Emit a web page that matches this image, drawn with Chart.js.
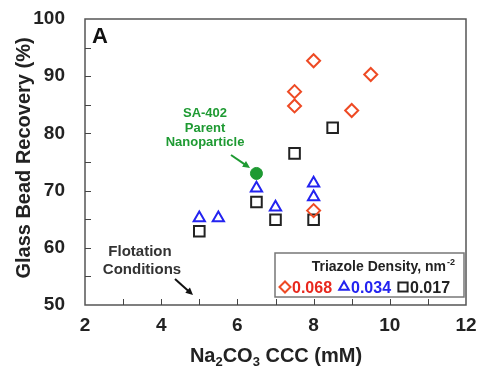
<!DOCTYPE html>
<html>
<head>
<meta charset="utf-8">
<script src="https://cdn.jsdelivr.net/npm/chart.js@4"></script>
<style>
  html, body { margin: 0; padding: 0; background: #fff; }
  #wrap { width: 478px; height: 368px; position: relative; }
</style>
</head>
<body>
<div id="wrap"><canvas id="myChart" width="478" height="368"></canvas></div>
<script>
'use strict';

// data
let redX = [8, 9.5, 7.5, 7.5, 9, 8];
let redY = [92.7, 90.3, 87.3, 84.8, 84.0, 66.5];
let blueX = [6.5, 7, 8, 8, 5, 5.5];
let blueY = [70.4, 67.1, 71.3, 68.9, 65.2, 65.2];
let blackX = [8.5, 7.5, 6.5, 7, 8, 5];
let blackY = [81.0, 76.5, 68.0, 64.9, 64.9, 62.9];
let greenX = [6.5];
let greenY = [73.0];
let seriesNames = ['0.068', '0.034', '0.017'];
let xTicks = [2, 4, 6, 8, 10, 12];
let yTicks = [50, 60, 70, 80, 90, 100];

let RED = '#ee4a24';
let BLUE = '#2323f0';
let BLACK = '#222222';
let GREEN = '#1e9a32';

function toPoints(xs, ys) {
    let pts = [];
    for (let i = 0; i < xs.length; i++) {
        pts.push({x: xs[i], y: ys[i]});
    }
    return pts;
}

let font = '"Liberation Sans", Arial, sans-serif';

function arrow(ctx, x1, y1, x2, y2, col) {
    let ang = Math.atan2(y2 - y1, x2 - x1);
    ctx.save();
    ctx.strokeStyle = col;
    ctx.fillStyle = col;
    ctx.lineWidth = 2;
    ctx.beginPath();
    ctx.moveTo(x1, y1);
    ctx.lineTo(x2 - 5 * Math.cos(ang), y2 - 5 * Math.sin(ang));
    ctx.stroke();
    ctx.beginPath();
    ctx.moveTo(x2, y2);
    ctx.lineTo(x2 - 8 * Math.cos(ang - 0.45), y2 - 8 * Math.sin(ang - 0.45));
    ctx.lineTo(x2 - 8 * Math.cos(ang + 0.45), y2 - 8 * Math.sin(ang + 0.45));
    ctx.closePath();
    ctx.fill();
    ctx.restore();
}

// box, inward ticks, titles, annotations and legend
let decor = {
    id: 'decor',
    afterDraw(chart) {
        let ctx = chart.ctx;
        let a = chart.chartArea;
        let xs = chart.scales.x;
        let ys = chart.scales.y;
        ctx.save();
        ctx.strokeStyle = '#555';
        ctx.lineWidth = 1.5;
        ctx.strokeRect(a.left, a.top, a.right - a.left, a.bottom - a.top);
        ctx.lineWidth = 1;
        ctx.strokeStyle = '#444';
        for (let v = 3; v < 12; v++) {
            let px = Math.round(xs.getPixelForValue(v)) + 0.5;
            ctx.beginPath();
            ctx.moveTo(px, a.bottom);
            ctx.lineTo(px, a.bottom - 6);
            ctx.stroke();
        }
        for (let v = 55; v < 100; v += 5) {
            let py = Math.round(ys.getPixelForValue(v)) + 0.5;
            ctx.beginPath();
            ctx.moveTo(a.left, py);
            ctx.lineTo(a.left + 6, py);
            ctx.stroke();
        }

        // axis titles
        ctx.fillStyle = '#222';
        ctx.font = 'bold 20px ' + font;
        ctx.textBaseline = 'middle';
        ctx.save();
        ctx.translate(24, 158);
        ctx.rotate(-Math.PI / 2);
        ctx.textAlign = 'center';
        ctx.fillText('Glass Bead Recovery (%)', 0, 0);
        ctx.restore();

        // Na2CO3 CCC (mM) with subscripts
        let parts = [['Na', false], ['2', true], ['CO', false], ['3', true], [' CCC (mM)', false]];
        let big = 'bold 20px ' + font;
        let small = 'bold 13px ' + font;
        let total = 0;
        for (let p of parts) {
            ctx.font = p[1] ? small : big;
            total += ctx.measureText(p[0]).width;
        }
        let cx = 276 - total / 2;
        ctx.textAlign = 'left';
        ctx.textBaseline = 'alphabetic';
        for (let p of parts) {
            ctx.font = p[1] ? small : big;
            ctx.fillText(p[0], cx, p[1] ? 366 : 362);
            cx += ctx.measureText(p[0]).width;
        }

        // panel letter
        ctx.font = 'bold 22px ' + font;
        ctx.fillStyle = '#111';
        ctx.fillText('A', a.left + 7, a.top + 24);

        // green annotation
        ctx.fillStyle = GREEN;
        ctx.font = 'bold 13px ' + font;
        ctx.textAlign = 'center';
        ctx.fillText('SA-402', 205, 117);
        ctx.fillText('Parent', 205, 132);
        ctx.fillText('Nanoparticle', 205, 146);
        arrow(ctx, 231, 155, 250, 168, GREEN);

        // flotation annotation
        ctx.fillStyle = '#333';
        ctx.font = 'bold 15px ' + font;
        ctx.fillText('Flotation', 140, 256);
        ctx.fillText('Conditions', 142, 274);
        arrow(ctx, 175, 279, 193, 295, '#111');

        // legend box
        ctx.fillStyle = '#fff';
        ctx.fillRect(275, 253, 189, 44);
        ctx.strokeStyle = '#777';
        ctx.lineWidth = 1.5;
        ctx.strokeRect(275, 253, 189, 44);
        ctx.fillStyle = '#222';
        ctx.textAlign = 'right';
        ctx.font = 'bold 14px ' + font;
        ctx.fillText('Triazole Density, nm', 446, 271);
        ctx.font = 'bold 9px ' + font;
        ctx.textAlign = 'left';
        ctx.fillText('-2', 447, 265);

        let styles = ['rectRot', 'triangle', 'rect'];
        let cols = [RED, BLUE, BLACK];
        let xPos = [285, 344, 403];
        ctx.font = 'bold 16px ' + font;
        for (let i = 0; i < 3; i++) {
            ctx.strokeStyle = cols[i];
            ctx.fillStyle = '#fff';
            ctx.lineWidth = 2;
            Chart.helpers.drawPoint(ctx, {
                pointStyle: styles[i], radius: styles[i] === 'rect' ? 6.5 : 5.5,
                borderWidth: 2
            }, xPos[i], 287);
            ctx.fillStyle = i === 0 ? '#e8281e' : cols[i];
            ctx.fillText(seriesNames[i], xPos[i] + 7, 293);
        }
        ctx.restore();
    }
};

let ctx = document.getElementById('myChart').getContext('2d');
let myChart = new Chart(ctx, {
    type: 'scatter',
    data: {
        datasets: [{
            label: seriesNames[0],
            data: toPoints(redX, redY),
            pointStyle: 'rectRot',
            pointRadius: 6.5,
            borderColor: RED,
            backgroundColor: 'rgba(255,255,255,0)',
            borderWidth: 2
        }, {
            label: seriesNames[1],
            data: toPoints(blueX, blueY),
            pointStyle: 'triangle',
            pointRadius: 6.5,
            borderColor: BLUE,
            backgroundColor: 'rgba(255,255,255,0)',
            borderWidth: 2
        }, {
            label: seriesNames[2],
            data: toPoints(blackX, blackY),
            pointStyle: 'rect',
            pointRadius: 7.5,
            borderColor: BLACK,
            backgroundColor: 'rgba(255,255,255,0)',
            borderWidth: 2
        }, {
            label: 'SA-402',
            data: toPoints(greenX, greenY),
            pointStyle: 'circle',
            pointRadius: 6,
            borderColor: GREEN,
            backgroundColor: GREEN,
            borderWidth: 1
        }]
    },
    options: {
        responsive: false,
        animation: false,
        layout: {padding: {top: 19, right: 12, left: 0, bottom: 0}},
        plugins: {
            legend: {display: false},
            tooltip: {enabled: false}
        },
        scales: {
            x: {
                type: 'linear',
                min: 2,
                max: 12,
                afterBuildTicks: function (s) { s.ticks = xTicks.map(v => ({value: v})); },
                afterFit: function (s) { s.height = 63; s.paddingLeft = 0; s.paddingRight = 0; },
                grid: {display: false},
                border: {display: false},
                ticks: {
                    color: '#222',
                    padding: 1,
                    font: {family: font, size: 19, weight: 'bold'},
                    maxRotation: 0
                }
            },
            y: {
                min: 50,
                max: 100,
                afterBuildTicks: function (s) { s.ticks = yTicks.map(v => ({value: v})); },
                afterFit: function (s) { s.width = 85; s.paddingTop = 0; s.paddingBottom = 0; },
                grid: {display: false},
                border: {display: false},
                ticks: {
                    color: '#222',
                    padding: 12,
                    font: {family: font, size: 19, weight: 'bold'}
                }
            }
        }
    },
    plugins: [decor]
});
</script>
</body>
</html>
